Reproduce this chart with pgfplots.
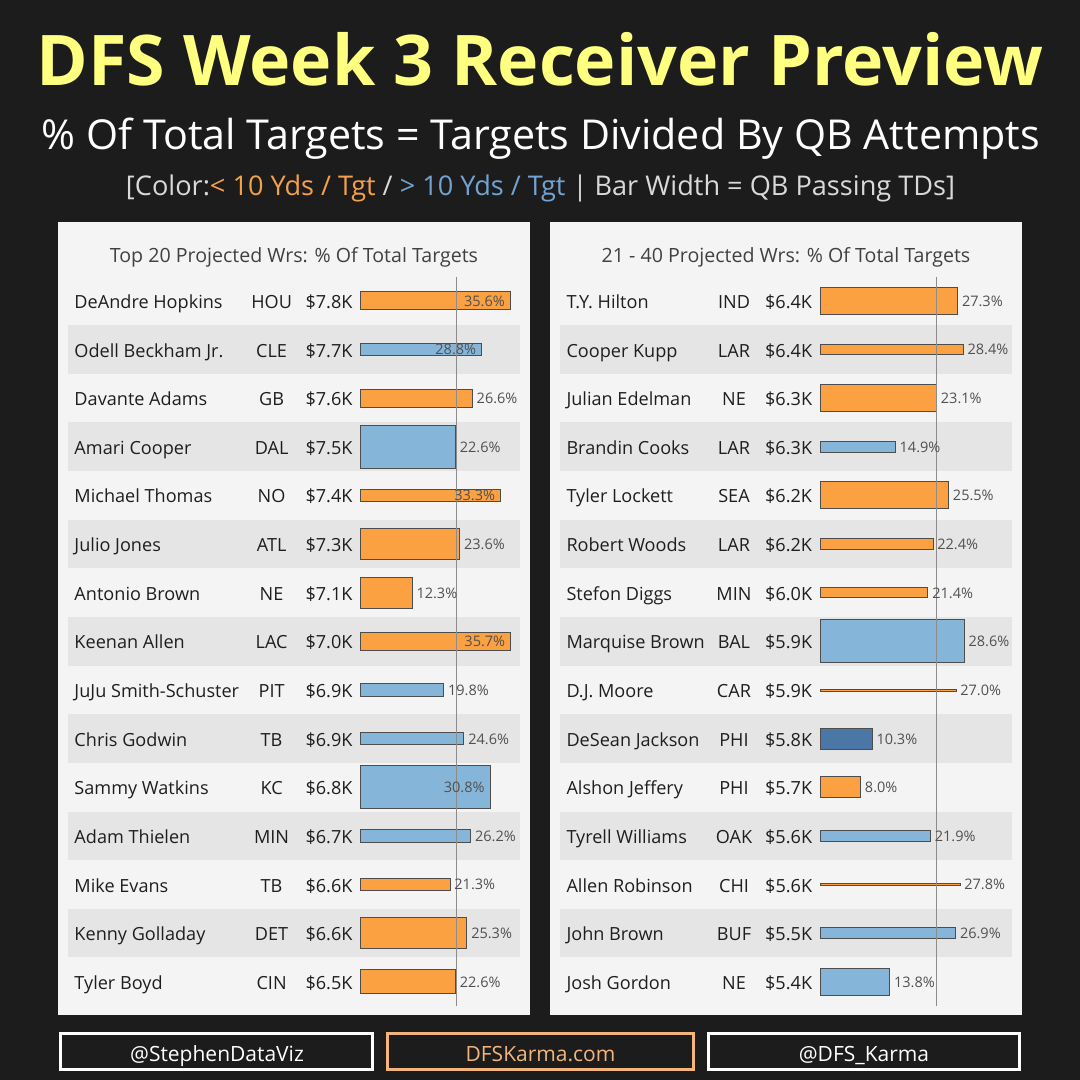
\documentclass[border=0pt]{standalone}
\usepackage{pgfplots}
\pgfplotsset{compat=1.18}
\usepackage{fontspec}
\setmainfont{Open Sans}
\definecolor{bg}{HTML}{1C1C1C}
\definecolor{panel}{HTML}{F4F4F4}
\definecolor{band}{HTML}{E5E5E5}
\definecolor{cO}{HTML}{FBA141}
\definecolor{cB}{HTML}{85B6D9}
\definecolor{cD}{HTML}{4A77A6}
\definecolor{bdr}{HTML}{4D4D4D}
\definecolor{ttl}{HTML}{FFFF80}
\definecolor{lblc}{HTML}{505050}
\definecolor{txt}{HTML}{1E1E1E}
\definecolor{ptitle}{HTML}{404040}
\definecolor{refc}{HTML}{8C8C8C}
\definecolor{tO}{HTML}{F5A04A}
\definecolor{tB}{HTML}{72A3D3}
\definecolor{fO}{HTML}{F4B57C}
\newcommand\vfont{\fontsize{14.5}{14.5}\selectfont}
\newcommand\rfont{\fontsize{18.1}{18.1}\selectfont}
\newcommand\rowL[3]{\makebox[176.1pt][l]{#1}\makebox[42pt][c]{#2}\makebox[59.9pt][r]{#3}}
\newcommand\rowR[3]{\makebox[147.5pt][l]{#1}\makebox[40pt][c]{#2}\makebox[58.1pt][r]{#3}}
\pgfplotsset{
  bb/.style={xbar, bar shift=0pt, draw=bdr, line width=0.9pt, point meta=x,
    nodes near coords={\pgfmathprintnumber[fixed,fixed zerofill,precision=1]{\pgfplotspointmeta}\%},
    every node near coord/.append style={font=\vfont, text=lblc, inner sep=0pt}},
  barO/.style={bb, fill=cO},
  barB/.style={bb, fill=cB},
  barD/.style={bb, fill=cD},
  lo/.style={every node near coord/.append style={anchor=base west, xshift=4pt, yshift=-5.4pt}},
  li/.style={every node near coord/.append style={anchor=base east, xshift=-5pt, yshift=-5.4pt}},
  panelax/.style={scale only axis, height=729.6pt, anchor=north west,
    xmin=0, xmax=38, ymin=0.5, ymax=15.5, y dir=reverse,
    axis line style={draw=none}, xtick=\empty, ytick={1,...,15},
    major tick length=0pt, clip=false,
    /pgf/number format/assume math mode=true,
    yticklabel style={anchor=base east, inner sep=0pt, yshift=-7.6pt, font=\rfont, text=txt}},
}
\begin{document}
\begin{tikzpicture}[x=1pt,y=-1pt]
\useasboundingbox (0,0) rectangle (1080,1080);
\fill[bg] (0,0) rectangle (1080,1080);
% header
\node[text=ttl, anchor=base, inner sep=0pt] at (540,85) {\resizebox{1007pt}{!}{\fontsize{72}{72}\selectfont\bfseries DFS Week 3 Receiver Preview}};
\node[text=white, anchor=base, inner sep=0pt] at (541,149) {\resizebox{998pt}{!}{\fontsize{40}{40}\selectfont \% Of Total Targets = Targets Divided By QB Attempts}};
\node[anchor=base, inner sep=0pt] at (540.5,195) {\resizebox{829pt}{!}{\fontsize{27}{27}\selectfont\color{white!85!black}[Color:\textcolor{tO}{< 10 Yds / Tgt} / \textcolor{tB}{> 10 Yds / Tgt} | Bar Width = QB Passing TDs]}};
% panels
\fill[panel] (58,222) rectangle (530,1015);
\fill[panel] (550,222) rectangle (1022,1015);
\foreach \c in {349.44,446.72,544.0,641.28,738.56,835.84,933.12}{
  \fill[band] (68,\c-24.32) rectangle (520,\c+24.32);
  \fill[band] (560,\c-24.32) rectangle (1012,\c+24.32);
}
\node[text=ptitle, anchor=base, inner sep=0pt, font=\fontsize{19.6}{19.6}\selectfont] at (294,262) {Top 20 Projected Wrs: \% Of Total Targets};
\node[text=ptitle, anchor=base, inner sep=0pt, font=\fontsize{19.6}{19.6}\selectfont] at (786,262) {21 - 40 Projected Wrs: \% Of Total Targets};
% left panel
\begin{axis}[panelax, at={(360.3pt,-276.5pt)}, width=160pt,
  yticklabel style={xshift=-7.6pt},
  yticklabels={\rowL{DeAndre Hopkins}{HOU}{\$7.8K},\rowL{Odell Beckham Jr.}{CLE}{\$7.7K},\rowL{Davante Adams}{GB}{\$7.6K},\rowL{Amari Cooper}{DAL}{\$7.5K},\rowL{Michael Thomas}{NO}{\$7.4K},\rowL{Julio Jones}{ATL}{\$7.3K},\rowL{Antonio Brown}{NE}{\$7.1K},\rowL{Keenan Allen}{LAC}{\$7.0K},\rowL{JuJu Smith-Schuster}{PIT}{\$6.9K},\rowL{Chris Godwin}{TB}{\$6.9K},\rowL{Sammy Watkins}{KC}{\$6.8K},\rowL{Adam Thielen}{MIN}{\$6.7K},\rowL{Mike Evans}{TB}{\$6.6K},\rowL{Kenny Golladay}{DET}{\$6.6K},\rowL{Tyler Boyd}{CIN}{\$6.5K}}]
\addplot[barO, li, bar width=18pt] coordinates {(35.6,1)};
\addplot[barB, li, bar width=12.3pt] coordinates {(28.8,2)};
\addplot[barO, lo, bar width=18pt] coordinates {(26.6,3)};
\addplot[barB, lo, bar width=43pt] coordinates {(22.6,4)};
\addplot[barO, li, bar width=12.3pt] coordinates {(33.3,5)};
\addplot[barO, lo, bar width=31pt] coordinates {(23.6,6)};
\addplot[barO, lo, bar width=31pt] coordinates {(12.3,7)};
\addplot[barO, li, bar width=18pt] coordinates {(35.7,8)};
\addplot[barB, lo, bar width=12.3pt] coordinates {(19.8,9)};
\addplot[barB, lo, bar width=12.3pt] coordinates {(24.6,10)};
\addplot[barB, li, bar width=43pt] coordinates {(30.8,11)};
\addplot[barB, lo, bar width=12.5pt] coordinates {(26.2,12)};
\addplot[barO, lo, bar width=12.3pt] coordinates {(21.3,13)};
\addplot[barO, lo, bar width=31pt] coordinates {(25.3,14)};
\addplot[barO, lo, bar width=24pt] coordinates {(22.6,15)};
\addplot[draw=refc, line width=1pt, mark=none, forget plot] coordinates {(22.85,0.5) (22.85,15.5)};
\end{axis}
% right panel
\begin{axis}[panelax, at={(820.3pt,-276.5pt)}, width=191.1pt,
  yticklabel style={xshift=-8pt},
  yticklabels={\rowR{T.Y. Hilton}{IND}{\$6.4K},\rowR{Cooper Kupp}{LAR}{\$6.4K},\rowR{Julian Edelman}{NE}{\$6.3K},\rowR{Brandin Cooks}{LAR}{\$6.3K},\rowR{Tyler Lockett}{SEA}{\$6.2K},\rowR{Robert Woods}{LAR}{\$6.2K},\rowR{Stefon Diggs}{MIN}{\$6.0K},\rowR{Marquise Brown}{BAL}{\$5.9K},\rowR{D.J. Moore}{CAR}{\$5.9K},\rowR{DeSean Jackson}{PHI}{\$5.8K},\rowR{Alshon Jeffery}{PHI}{\$5.7K},\rowR{Tyrell Williams}{OAK}{\$5.6K},\rowR{Allen Robinson}{CHI}{\$5.6K},\rowR{John Brown}{BUF}{\$5.5K},\rowR{Josh Gordon}{NE}{\$5.4K}}]
\addplot[barO, lo, bar width=27pt] coordinates {(27.3,1)};
\addplot[barO, lo, bar width=10.3pt] coordinates {(28.4,2)};
\addplot[barO, lo, bar width=27pt] coordinates {(23.1,3)};
\addplot[barB, lo, bar width=10.7pt] coordinates {(14.9,4)};
\addplot[barO, lo, bar width=27pt] coordinates {(25.5,5)};
\addplot[barO, lo, bar width=10.3pt] coordinates {(22.4,6)};
\addplot[barO, lo, bar width=10.3pt] coordinates {(21.4,7)};
\addplot[barB, lo, bar width=43pt] coordinates {(28.6,8)};
\addplot[barO, lo, bar width=2.3pt, line width=0.6pt] coordinates {(27.0,9)};
\addplot[barD, lo, bar width=21.3pt] coordinates {(10.3,10)};
\addplot[barO, lo, bar width=21pt] coordinates {(8.0,11)};
\addplot[barB, lo, bar width=10.7pt] coordinates {(21.9,12)};
\addplot[barO, lo, bar width=2.5pt, line width=0.6pt] coordinates {(27.8,13)};
\addplot[barB, lo, bar width=11pt] coordinates {(26.9,14)};
\addplot[barB, lo, bar width=27pt] coordinates {(13.8,15)};
\addplot[draw=refc, line width=1pt, mark=none, forget plot] coordinates {(23.06,0.5) (23.06,15.5)};
\end{axis}
% footer
\draw[white, line width=3pt] (60,1033) rectangle (372.5,1069.5);
\draw[fO, line width=3pt] (387.2,1033) rectangle (693,1069.5);
\draw[white, line width=3pt] (708.2,1033) rectangle (1019.5,1069.5);
\node[text=white, anchor=base, inner sep=0pt, font=\fontsize{21}{21}\selectfont] at (217,1061.5) {@StephenDataViz};
\node[text=fO, anchor=base, inner sep=0pt, font=\fontsize{21}{21}\selectfont] at (540.5,1061.5) {DFSKarma.com};
\node[text=white, anchor=base, inner sep=0pt, font=\fontsize{21}{21}\selectfont] at (864,1061.5) {@DFS\_Karma};
\end{tikzpicture}
\end{document}
